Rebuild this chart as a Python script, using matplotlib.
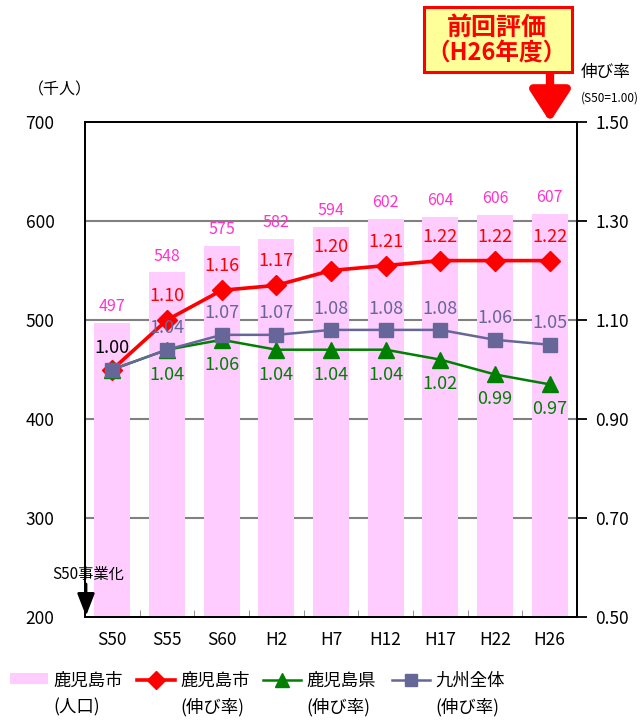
import matplotlib
matplotlib.use("Agg")
import matplotlib.pyplot as plt
from matplotlib.lines import Line2D
from matplotlib.patches import Rectangle
import numpy as np

plt.rcParams['font.family'] = ['Noto Sans CJK JP', 'DejaVu Sans']

# Survey years
categories = ["S50", "S55", "S60", "H2", "H7", "H12", "H17", "H22", "H26"]
# Kagoshima city population (thousand people)
population = [497, 548, 575, 582, 594, 602, 604, 606, 607]
# Growth ratios (S50 = 1.00)
city_ratio = [1.00, 1.10, 1.16, 1.17, 1.20, 1.21, 1.22, 1.22, 1.22]
pref_ratio = [1.00, 1.04, 1.06, 1.04, 1.04, 1.04, 1.02, 0.99, 0.97]
kyushu_ratio = [1.00, 1.04, 1.07, 1.07, 1.08, 1.08, 1.08, 1.06, 1.05]

left_ticks = [200, 300, 400, 500, 600, 700]
right_ticks = [0.50, 0.70, 0.90, 1.10, 1.30, 1.50]

PINK_BAR = "#FFCCFF"
PINK_TXT = "#FF33CC"
RED = "#FF0000"
GREEN = "#008000"
PURPLE = "#666699"

W, H = 642, 723
fig = plt.figure(figsize=(W / 100, H / 100), dpi=100)


def fx(px):
    return px / W


def fy(py):
    return 1 - py / H


ax = fig.add_axes([fx(85), fy(617), fx(577) - fx(85), fy(122) - fy(617)])
x = np.arange(len(categories))

ax.set_axisbelow(True)
for g in [300, 400, 500, 600]:
    ax.axhline(g, color="#808080", lw=1.5, zorder=0)
ax.bar(x, population, width=0.66, color=PINK_BAR, zorder=1)
ax.set_ylim(200, 700)
ax.set_xlim(-0.5, len(categories) - 0.5)
ax.set_yticks(left_ticks)
ax.set_yticklabels([str(v) for v in left_ticks], fontsize=12.5)
ax.set_xticks(x)
ax.set_xticklabels(categories, fontsize=12.5)
ax.tick_params(axis="x", length=0, pad=10)
ax.set_xticks(np.arange(-0.5, len(categories)), minor=True)
ax.tick_params(axis="x", which="minor", direction="in", length=5, color="#808080")
ax.tick_params(axis="y", length=0, pad=22)
for s in ax.spines.values():
    s.set_linewidth(1.3)

for xi, v in zip(x, population):
    ax.text(xi, v + 8, str(v), ha="center", va="bottom", color=PINK_TXT, fontsize=11.5)

ax2 = ax.twinx()
ax2.set_ylim(0.5, 1.5)
ax2.set_yticks(right_ticks)
ax2.set_yticklabels([f"{v:.2f}" for v in right_ticks], fontsize=12.5)
ax2.tick_params(axis="y", direction="out", length=7, width=1.3, pad=6)
for s in ax2.spines.values():
    s.set_linewidth(1.3)

ax2.plot(x, city_ratio, color=RED, lw=2.6, marker="D", markersize=10, zorder=3)
ax2.plot(x, pref_ratio, color=GREEN, lw=1.8, marker="^", markersize=11, zorder=4)
ax2.plot(x, kyushu_ratio, color=PURPLE, lw=1.8, marker="s", markersize=10, zorder=5)

for i, xi in enumerate(x):
    if i == 0:
        ax2.text(xi, city_ratio[i] + 0.025, f"{city_ratio[i]:.2f}", ha="center",
                 va="bottom", color="black", fontsize=13, zorder=6)
        continue
    ax2.text(xi, city_ratio[i] + 0.03, f"{city_ratio[i]:.2f}", ha="center",
             va="bottom", color=RED, fontsize=13, zorder=6)
    ax2.text(xi, kyushu_ratio[i] + 0.025, f"{kyushu_ratio[i]:.2f}", ha="center",
             va="bottom", color=PURPLE, fontsize=13, zorder=6)
    ax2.text(xi, pref_ratio[i] - 0.032, f"{pref_ratio[i]:.2f}", ha="center",
             va="top", color=GREEN, fontsize=13, zorder=6)

# Axis captions
fig.text(fx(28), fy(90), "（千人）", fontsize=11.5, va="center", ha="left")
fig.text(fx(606), fy(73), "伸び率", fontsize=12, va="center", ha="center")
fig.text(fx(639), fy(98), "(S50=1.00)", fontsize=8.5, va="center", ha="right")

# Callout box with arrow
fig.patches.append(Rectangle((fx(424), fy(72)), fx(572) - fx(424), fy(7) - fy(72),
                             transform=fig.transFigure, fc="#FFFF99", ec=RED, lw=2.2))
fig.text(fx(497), fy(28), "前回評価", fontsize=18, fontweight="bold", color=RED,
         ha="center", va="center")
fig.text(fx(497), fy(53), "（H26年度）", fontsize=17, fontweight="bold", color=RED,
         ha="center", va="center")
ax.annotate("", xy=(fx(550), fy(122)), xytext=(fx(550), fy(73)),
            xycoords="figure fraction", textcoords="figure fraction",
            arrowprops=dict(arrowstyle="-|>,head_width=0.55,head_length=0.85",
                            lw=6, color=RED, mutation_scale=22, shrinkA=0, shrinkB=0))

# Project start marker
fig.text(fx(88), fy(574), "S50事業化", fontsize=11, ha="center", va="center")
ax.annotate("", xy=(fx(86), fy(616)), xytext=(fx(86), fy(584)),
            xycoords="figure fraction", textcoords="figure fraction",
            arrowprops=dict(arrowstyle="-|>,head_width=0.35,head_length=0.9",
                            lw=2, color="black", mutation_scale=15, shrinkA=0, shrinkB=0))

# Legend
fig.patches.append(Rectangle((fx(10), fy(684)), fx(48) - fx(10), fy(673) - fy(684),
                             transform=fig.transFigure, fc=PINK_BAR, ec="none"))
legend_items = [
    (137, RED, "D", 2.6, 9, "鹿児島市", "(伸び率)"),
    (263, GREEN, "^", 1.8, 10, "鹿児島県", "(伸び率)"),
    (392, PURPLE, "s", 1.8, 9, "九州全体", "(伸び率)"),
]
fig.text(fx(53), fy(681), "鹿児島市", fontsize=12.5, ha="left", va="center")
fig.text(fx(53), fy(707), "(人口)", fontsize=12.5, ha="left", va="center")
for x0, col, mk, lw, ms, lab1, lab2 in legend_items:
    fig.lines.append(Line2D([fx(x0), fx(x0 + 38)], [fy(680), fy(680)],
                            transform=fig.transFigure, color=col, lw=lw))
    fig.lines.append(Line2D([fx(x0 + 19)], [fy(680)], transform=fig.transFigure,
                            color=col, marker=mk, markersize=ms, lw=0))
    fig.text(fx(x0 + 43), fy(681), lab1, fontsize=12.5, ha="left", va="center")
    fig.text(fx(x0 + 43), fy(707), lab2, fontsize=12.5, ha="left", va="center")

fig.savefig("out.png", dpi=100)
